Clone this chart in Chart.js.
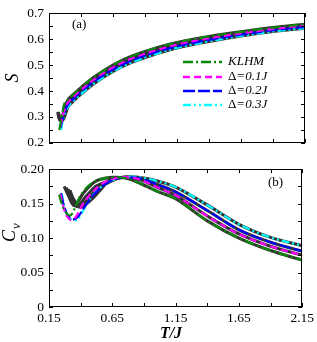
<!DOCTYPE html>
<html>
<head>
<meta charset="utf-8">
<script src="https://cdn.jsdelivr.net/npm/chart.js@4"></script>
<style>
body { margin: 0; background: #fff; }
canvas { display: block; }
</style>
</head>
<body>
<canvas id="topChart" width="317" height="156"></canvas>
<canvas id="bottomChart" width="317" height="186"></canvas>
<script>
// series labels and colours
const names = ['KLHM', '0.1J', '0.2J', '0.3J'];
const colors = ['#0a8a0a', '#ff00ff', '#0000ff', '#00ffff'];
const dashes = [[10, 3, 2, 3], [7, 4], [12, 3], [8, 3, 2, 3, 2, 3]];

const xLabels = [0.15, 0.65, 1.15, 1.65, 2.15];

// (a) entropy S
const klhmST = [0.23, 0.25, 0.27, 0.3, 0.35, 0.4, 0.5, 0.65, 0.8, 1.0, 1.15, 1.4, 1.65, 1.9, 2.15];
const klhmS  = [0.25, 0.3, 0.352, 0.367, 0.391, 0.413, 0.453, 0.5, 0.535, 0.568, 0.587, 0.61, 0.628, 0.644, 0.657];
const d1ST = [0.24, 0.26, 0.28, 0.3, 0.35, 0.4, 0.5, 0.65, 0.8, 1.0, 1.15, 1.4, 1.65, 1.9, 2.15];
const d1S  = [0.265, 0.31, 0.34, 0.357, 0.382, 0.404, 0.444, 0.491, 0.526, 0.559, 0.579, 0.603, 0.622, 0.639, 0.652];
const d2ST = [0.24, 0.26, 0.28, 0.3, 0.35, 0.4, 0.5, 0.65, 0.8, 1.0, 1.15, 1.4, 1.65, 1.9, 2.15];
const d2S  = [0.258, 0.3, 0.33, 0.349, 0.374, 0.396, 0.436, 0.483, 0.518, 0.552, 0.572, 0.597, 0.617, 0.634, 0.647];
const d3ST = [0.245, 0.26, 0.28, 0.3, 0.35, 0.4, 0.5, 0.65, 0.8, 1.0, 1.15, 1.4, 1.65, 1.9, 2.15];
const d3S  = [0.25, 0.29, 0.32, 0.34, 0.366, 0.388, 0.428, 0.475, 0.511, 0.545, 0.566, 0.591, 0.612, 0.629, 0.642];

// black (exact) curves, low-T part of S
const klhmSLowT = [0.22, 0.225, 0.235, 0.25, 0.27];
const klhmSLow  = [0.32, 0.30, 0.29, 0.295, 0.33];
const d1SLowT = [0.222, 0.228, 0.238, 0.255, 0.275];
const d1SLow  = [0.318, 0.298, 0.288, 0.293, 0.325];
const d2SLowT = [0.224, 0.23, 0.24, 0.26, 0.28];
const d2SLow  = [0.316, 0.296, 0.287, 0.292, 0.322];
const d3SLowT = [0.226, 0.232, 0.243, 0.263, 0.285];
const d3SLow  = [0.314, 0.294, 0.286, 0.291, 0.32];

// (b) specific heat Cv
const klhmCT = [0.23, 0.25, 0.28, 0.32, 0.36, 0.4, 0.47, 0.55, 0.65, 0.75, 0.85, 1.0, 1.15, 1.4, 1.65, 1.9, 2.15];
const klhmC  = [0.163, 0.15, 0.138, 0.133, 0.146, 0.162, 0.177, 0.185, 0.188, 0.187, 0.181, 0.168, 0.157, 0.125, 0.1, 0.082, 0.068];
const d1CT = [0.24, 0.26, 0.29, 0.33, 0.37, 0.42, 0.5, 0.58, 0.68, 0.78, 0.88, 1.0, 1.15, 1.4, 1.65, 1.9, 2.15];
const d1C  = [0.164, 0.148, 0.132, 0.126, 0.133, 0.15, 0.168, 0.18, 0.187, 0.188, 0.184, 0.174, 0.162, 0.132, 0.106, 0.088, 0.075];
const d2CT = [0.245, 0.27, 0.3, 0.34, 0.38, 0.43, 0.5, 0.6, 0.7, 0.8, 0.9, 1.0, 1.15, 1.4, 1.65, 1.9, 2.15];
const d2C  = [0.165, 0.146, 0.132, 0.127, 0.131, 0.145, 0.162, 0.179, 0.187, 0.188, 0.185, 0.178, 0.167, 0.14, 0.112, 0.094, 0.081];
const d3CT = [0.25, 0.28, 0.32, 0.37, 0.42, 0.5, 0.6, 0.7, 0.8, 0.9, 1.0, 1.15, 1.4, 1.65, 1.9, 2.15];
const d3C  = [0.165, 0.14, 0.128, 0.126, 0.14, 0.163, 0.179, 0.187, 0.189, 0.187, 0.183, 0.174, 0.148, 0.12, 0.101, 0.089];

// black curves, low-T part of Cv
const klhmCLowT = [0.27, 0.3, 0.35, 0.42, 0.5];
const klhmCLow  = [0.175, 0.163, 0.147, 0.165, 0.18];
const d1CLowT = [0.285, 0.315, 0.37, 0.44, 0.52];
const d1CLow  = [0.173, 0.16, 0.146, 0.16, 0.175];
const d2CLowT = [0.3, 0.33, 0.385, 0.46, 0.55];
const d2CLow  = [0.171, 0.158, 0.145, 0.157, 0.175];
const d3CLowT = [0.315, 0.345, 0.4, 0.48, 0.58];
const d3CLow  = [0.169, 0.156, 0.145, 0.155, 0.175];

function pts(t, v) {
    return t.map((x, i) => ({ x: x, y: v[i] }));
}

// black curve = own low-T part, then same as coloured one
function exact(lowT, low, t, v) {
    const last = lowT[lowT.length - 1];
    return pts(lowT, low).concat(pts(t, v).filter(p => p.x > last));
}

function buildSets(colT, colV, lowT, lowV) {
    const sets = [];
    for (let i = 0; i < 4; i++) {
        const ex = exact(lowT[i], lowV[i], colT[i], colV[i]);
        sets.push({ data: ex, borderColor: '#333', borderWidth: 3.1, order: 2, tension: 0.35 });
        sets.push({ data: pts(colT[i], colV[i]), borderColor: colors[i], borderWidth: 2.2,
            borderDash: dashes[i], order: 1, tension: 0.35 });
    }
    return sets;
}

const serif = '"Liberation Serif", "Times New Roman", serif';

const frame = {
    id: 'frame',
    afterDraw(chart, args, opts) {
        const ctx = chart.ctx;
        const a = chart.chartArea;
        const x = chart.scales.x, y = chart.scales.y;
        ctx.save();
        ctx.strokeStyle = '#000';
        ctx.lineWidth = 1;
        ctx.strokeRect(Math.round(a.left) + 0.5, Math.round(a.top) + 0.5,
            Math.round(a.right - a.left) - 1, Math.round(a.bottom - a.top) - 1);
        ctx.beginPath();
        for (let v = 0.15; v < 2.16; v += 0.25) {
            const px = Math.round(x.getPixelForValue(v)) + 0.5;
            ctx.moveTo(px, a.bottom); ctx.lineTo(px, a.bottom - 4);
            ctx.moveTo(px, a.top); ctx.lineTo(px, a.top + 4);
        }
        for (let v = y.min; v <= y.max + 1e-9; v += opts.yStep) {
            const py = Math.round(y.getPixelForValue(v)) + 0.5;
            ctx.moveTo(a.left, py); ctx.lineTo(a.left + 4, py);
            ctx.moveTo(a.right, py); ctx.lineTo(a.right - 4, py);
        }
        ctx.stroke();
        ctx.fillStyle = '#000';
        opts.extra(ctx, chart);
        ctx.restore();
    }
};

function lineSample(ctx, x0, x1, y, i) {
    ctx.save();
    ctx.strokeStyle = colors[i];
    ctx.lineWidth = 2.5;
    ctx.setLineDash(dashes[i]);
    ctx.beginPath();
    ctx.moveTo(x0, y); ctx.lineTo(x1, y);
    ctx.stroke();
    ctx.restore();
}

function drawTopText(ctx, chart) {
    ctx.font = '13px ' + serif;
    ctx.textBaseline = 'middle';
    ctx.fillText('(a)', 72, 25);
    const rows = [62, 77, 91, 105];
    for (let i = 0; i < 4; i++) {
        lineSample(ctx, 183, 222, rows[i], i);
        if (i === 0) {
            ctx.font = 'italic 13px ' + serif;
            ctx.fillText(names[i], 228, rows[i]);
        } else {
            ctx.font = '13px ' + serif;
            ctx.fillText('\u0394', 228, rows[i]);
            const w = ctx.measureText('\u0394').width;
            ctx.font = 'italic 13px ' + serif;
            ctx.fillText('=' + names[i], 228 + w, rows[i]);
        }
    }
    ctx.save();
    ctx.translate(13, 78);
    ctx.rotate(-Math.PI / 2);
    ctx.font = 'italic 18px ' + serif;
    ctx.textAlign = 'center';
    ctx.fillText('S', 0, 0);
    ctx.restore();
}

function drawBottomText(ctx, chart) {
    ctx.font = '13px ' + serif;
    ctx.textBaseline = 'middle';
    ctx.fillText('(b)', 268, 27);
    ctx.save();
    ctx.translate(15, 86);
    ctx.rotate(-Math.PI / 2);
    ctx.textBaseline = 'alphabetic';
    ctx.font = 'italic 18px ' + serif;
    ctx.fillText('C', 0, 0);
    ctx.font = 'italic 13px ' + serif;
    ctx.fillText('v', 13, 5);
    ctx.restore();
    ctx.font = 'bold italic 16px ' + serif;
    ctx.textAlign = 'center';
    ctx.fillText('T/J', 171, 178);
}

const tickFont = { family: serif, size: 13.5 };

new Chart(document.getElementById('topChart'), {
    type: 'scatter',
    data: {
        datasets: buildSets([klhmST, d1ST, d2ST, d3ST], [klhmS, d1S, d2S, d3S],
            [klhmSLowT, d1SLowT, d2SLowT, d3SLowT], [klhmSLow, d1SLow, d2SLow, d3SLow])
    },
    options: {
        responsive: false,
        animation: false,
        devicePixelRatio: 1,
        showLine: true,
        elements: { point: { radius: 0 } },
        layout: { padding: { top: 5, right: 12, left: 0, bottom: 0 } },
        plugins: {
            legend: { display: false },
            tooltip: { enabled: false },
            frame: { yStep: 0.05, extra: drawTopText }
        },
        scales: {
            x: {
                type: 'linear', min: 0.15, max: 2.15,
                ticks: { display: false },
                grid: { display: false, drawTicks: false },
                border: { display: false },
                afterFit: s => { s.height = 8; }
            },
            y: {
                min: 0.2, max: 0.7,
                ticks: { stepSize: 0.1, color: '#000', font: tickFont, padding: 5 },
                grid: { display: false, drawTicks: false },
                border: { display: false },
                afterFit: s => { s.width = 49; }
            }
        }
    },
    plugins: [frame]
});

new Chart(document.getElementById('bottomChart'), {
    type: 'scatter',
    data: {
        datasets: buildSets([klhmCT, d1CT, d2CT, d3CT], [klhmC, d1C, d2C, d3C],
            [klhmCLowT, d1CLowT, d2CLowT, d3CLowT], [klhmCLow, d1CLow, d2CLow, d3CLow])
    },
    options: {
        responsive: false,
        animation: false,
        devicePixelRatio: 1,
        showLine: true,
        elements: { point: { radius: 0 } },
        layout: { padding: { top: 8, right: 12, left: 0, bottom: 0 } },
        plugins: {
            legend: { display: false },
            tooltip: { enabled: false },
            frame: { yStep: 0.025, extra: drawBottomText }
        },
        scales: {
            x: {
                type: 'linear', min: 0.15, max: 2.15,
                afterBuildTicks: s => { s.ticks = xLabels.map(v => ({ value: v })); },
                ticks: { color: '#000', font: tickFont, padding: 3, maxRotation: 0,
                    callback: v => v.toFixed(2) },
                grid: { display: false, drawTicks: false },
                border: { display: false },
                afterFit: s => { s.height = 35; }
            },
            y: {
                min: 0, max: 0.2,
                ticks: { stepSize: 0.05, color: '#000', font: tickFont, padding: 5 },
                grid: { display: false, drawTicks: false },
                border: { display: false },
                afterFit: s => { s.width = 49; }
            }
        }
    },
    plugins: [frame]
});
</script>
</body>
</html>
